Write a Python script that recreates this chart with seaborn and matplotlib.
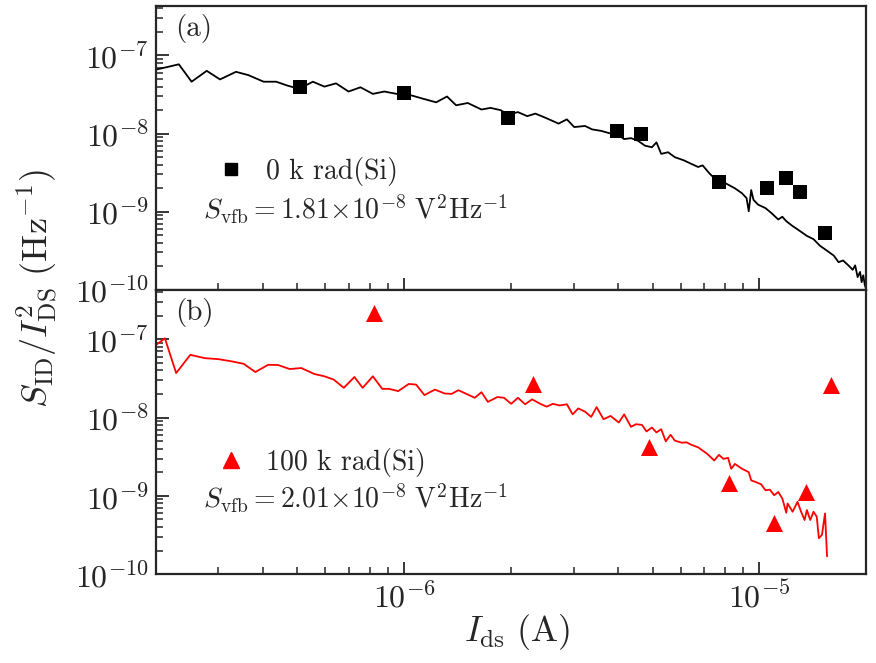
import numpy as np
import pandas as pd
import matplotlib
matplotlib.use('Agg')
import matplotlib.pyplot as plt
import matplotlib.ticker as mticker
from matplotlib.lines import Line2D
import seaborn as sns

# 0 krad(Si): measured noise curve (black line) and model points (squares)
ids_a = [2.00e-7, 2.16e-7, 2.32e-7, 2.52e-7, 2.78e-7, 3.03e-7, 3.36e-7, 3.64e-7, 4.02e-7, 4.36e-7,
         4.69e-7, 5.06e-7, 5.53e-7, 5.96e-7, 6.43e-7, 6.97e-7, 7.53e-7, 8.16e-7, 8.79e-7, 9.62e-7,
         1.05e-6, 1.13e-6, 1.23e-6, 1.32e-6, 1.40e-6, 1.51e-6, 1.65e-6, 1.75e-6, 1.87e-6, 1.96e-6,
         2.09e-6, 2.22e-6, 2.34e-6, 2.50e-6, 2.72e-6, 2.87e-6, 3.01e-6, 3.23e-6, 3.38e-6, 3.59e-6,
         3.81e-6, 3.94e-6, 4.04e-6, 4.16e-6, 4.35e-6, 4.55e-6, 4.76e-6, 4.98e-6, 5.13e-6, 5.29e-6,
         5.53e-6, 5.78e-6, 6.14e-6, 6.42e-6, 6.72e-6, 6.92e-6, 7.24e-6, 7.57e-6, 8.04e-6, 8.53e-6,
         8.93e-6, 9.20e-6, 9.33e-6, 9.48e-6, 9.62e-6, 9.91e-6, 1.04e-5, 1.08e-5, 1.13e-5, 1.16e-5,
         1.19e-5, 1.24e-5, 1.28e-5, 1.32e-5, 1.36e-5, 1.42e-5, 1.48e-5, 1.55e-5, 1.62e-5, 1.67e-5,
         1.72e-5, 1.78e-5, 1.83e-5, 1.86e-5, 1.89e-5, 1.92e-5, 1.94e-5, 1.96e-5, 1.98e-5, 2.00e-5]
s_a = [6.59e-8, 7.13e-8, 7.70e-8, 4.61e-8, 6.35e-8, 4.93e-8, 6.17e-8, 5.60e-8, 4.61e-8, 4.61e-8,
       4.11e-8, 3.73e-8, 4.61e-8, 3.99e-8, 4.39e-8, 3.45e-8, 3.91e-8, 3.22e-8, 3.45e-8, 3.19e-8,
       3.07e-8, 2.79e-8, 2.51e-8, 2.98e-8, 2.30e-8, 2.46e-8, 2.03e-8, 2.13e-8, 1.99e-8, 1.75e-8,
       1.88e-8, 1.67e-8, 1.80e-8, 1.59e-8, 1.34e-8, 1.52e-8, 1.21e-8, 1.25e-8, 1.13e-8, 1.08e-8,
       1.00e-8, 9.08e-9, 9.35e-9, 8.49e-9, 8.73e-9, 8.09e-9, 7.00e-9, 6.67e-9, 7.70e-9, 5.49e-9,
       5.76e-9, 4.98e-9, 4.52e-9, 4.10e-9, 3.73e-9, 3.91e-9, 3.07e-9, 2.53e-9, 2.30e-9, 1.99e-9,
       1.72e-9, 1.49e-9, 1.01e-9, 1.89e-9, 1.42e-9, 1.23e-9, 1.11e-9, 9.62e-10, 7.93e-10, 8.60e-10,
       7.55e-10, 6.53e-10, 5.93e-10, 5.38e-10, 4.89e-10, 4.44e-10, 3.66e-10, 3.16e-10, 2.73e-10, 2.25e-10,
       2.37e-10, 2.05e-10, 1.80e-10, 2.05e-10, 1.45e-10, 1.69e-10, 1.25e-10, 1.53e-10, 1.15e-10, 1.00e-10]
pts_a_x = [5.1e-7, 1.0e-6, 1.96e-6, 3.97e-6, 4.64e-6, 7.69e-6, 1.05e-5, 1.19e-5, 1.30e-5, 1.53e-5]
pts_a_y = [3.9e-8, 3.3e-8, 1.56e-8, 1.09e-8, 1.0e-8, 2.4e-9, 2.0e-9, 2.7e-9, 1.8e-9, 5.4e-10]

# 100 krad(Si)
ids_b = [2.00e-7, 2.12e-7, 2.28e-7, 2.50e-7, 2.74e-7, 3.00e-7, 3.28e-7, 3.53e-7, 3.81e-7, 4.14e-7,
         4.42e-7, 4.76e-7, 5.13e-7, 5.58e-7, 5.96e-7, 6.33e-7, 6.76e-7, 7.24e-7, 7.64e-7, 8.16e-7,
         8.67e-7, 9.06e-7, 9.62e-7, 1.03e-6, 1.08e-6, 1.14e-6, 1.22e-6, 1.30e-6, 1.36e-6, 1.42e-6,
         1.51e-6, 1.58e-6, 1.65e-6, 1.72e-6, 1.83e-6, 1.91e-6, 2.00e-6, 2.09e-6, 2.19e-6, 2.29e-6,
         2.43e-6, 2.52e-6, 2.62e-6, 2.74e-6, 2.87e-6, 2.98e-6, 3.09e-6, 3.23e-6, 3.36e-6, 3.48e-6,
         3.64e-6, 3.81e-6, 4.02e-6, 4.16e-6, 4.35e-6, 4.49e-6, 4.67e-6, 4.81e-6, 4.98e-6, 5.13e-6,
         5.29e-6, 5.45e-6, 5.62e-6, 5.78e-6, 6.05e-6, 6.24e-6, 6.42e-6, 6.72e-6, 7.13e-6, 7.46e-6,
         7.69e-6, 7.92e-6, 8.16e-6, 8.33e-6, 8.53e-6, 8.93e-6, 9.33e-6, 9.48e-6, 9.77e-6, 1.01e-5,
         1.04e-5, 1.07e-5, 1.10e-5, 1.13e-5, 1.16e-5, 1.19e-5, 1.20e-5, 1.24e-5, 1.28e-5, 1.31e-5,
         1.34e-5, 1.36e-5, 1.39e-5, 1.42e-5, 1.45e-5, 1.47e-5, 1.50e-5, 1.53e-5, 1.55e-5]
s_b = [8.47e-8, 1.03e-7, 3.71e-8, 6.34e-8, 5.75e-8, 5.58e-8, 5.21e-8, 4.87e-8, 3.82e-8, 4.73e-8,
       4.69e-8, 4.17e-8, 4.30e-8, 3.61e-8, 3.37e-8, 3.06e-8, 2.40e-8, 3.30e-8, 2.40e-8, 3.37e-8,
       2.33e-8, 2.33e-8, 2.18e-8, 2.69e-8, 2.64e-8, 1.94e-8, 2.28e-8, 2.03e-8, 2.01e-8, 2.24e-8,
       1.97e-8, 1.79e-8, 2.11e-8, 1.59e-8, 1.83e-8, 1.79e-8, 1.50e-8, 1.79e-8, 1.48e-8, 1.71e-8,
       1.48e-8, 1.38e-8, 1.50e-8, 1.43e-8, 1.48e-8, 1.10e-8, 1.31e-8, 1.19e-8, 1.02e-8, 1.36e-8,
       9.53e-9, 1.05e-8, 8.65e-9, 1.10e-8, 7.62e-9, 8.23e-9, 8.07e-9, 6.65e-9, 7.47e-9, 6.46e-9,
       7.11e-9, 4.97e-9, 6.04e-9, 5.07e-9, 4.78e-9, 4.83e-9, 4.51e-9, 4.17e-9, 3.44e-9, 2.83e-9,
       3.34e-9, 2.97e-9, 3.06e-9, 2.22e-9, 2.56e-9, 2.22e-9, 2.01e-9, 1.58e-9, 1.50e-9, 1.41e-9,
       1.18e-9, 1.20e-9, 1.02e-9, 1.12e-9, 9.25e-10, 6.09e-10, 8.00e-10, 6.27e-10, 8.40e-10, 6.27e-10,
       4.92e-10, 6.59e-10, 4.92e-10, 6.27e-10, 5.42e-10, 2.88e-10, 3.18e-10, 5.97e-10, 1.69e-10]
pts_b_x = [8.2e-7, 2.3e-6, 4.9e-6, 8.2e-6, 1.1e-5, 1.35e-5, 1.59e-5]
pts_b_y = [2.15e-7, 2.7e-8, 4.2e-9, 1.47e-9, 4.5e-10, 1.12e-9, 2.6e-8]

labels = ['0 k rad(Si)', '100 k rad(Si)']
svfb = [r'$S_{\rm vfb}=1.81{\times}10^{-8}\ \rm V^2Hz^{-1}$',
        r'$S_{\rm vfb}=2.01{\times}10^{-8}\ \rm V^2Hz^{-1}$']

sns.set_style('ticks')
plt.rcParams['font.family'] = ['cmr10', 'DejaVu Serif']
plt.rcParams['mathtext.fontset'] = 'cm'
plt.rcParams['axes.formatter.use_mathtext'] = True
plt.rcParams['axes.unicode_minus'] = False

fig = plt.figure(figsize=(8.76, 6.63), dpi=100)
ax1 = fig.add_axes([0.178, 0.563, 0.811, 0.428])
ax2 = fig.add_axes([0.178, 0.134, 0.811, 0.429])

panels = [
    (ax1, ids_a, s_a, pts_a_x, pts_a_y, 'black', 's', 100, '(a)', 0.418, 0.283),
    (ax2, ids_b, s_b, pts_b_x, pts_b_y, 'red', '^', 150, '(b)', 0.392, 0.268),
]

for i, (ax, lx, ly, px, py, col, mk, ms, tag, ly_leg, ly_txt) in enumerate(panels):
    df_line = pd.DataFrame({'ids': lx, 's': ly})
    df_pts = pd.DataFrame({'ids': px, 's': py})
    sns.lineplot(data=df_line, x='ids', y='s', ax=ax, color=col, lw=1.3,
                 estimator=None, sort=False)
    sns.scatterplot(data=df_pts, x='ids', y='s', ax=ax, color=col, marker=mk,
                    s=ms, linewidth=0, zorder=3)
    ax.set_xscale('log')
    ax.set_yscale('log')
    ax.set_xlim(2e-7, 2e-5)
    ax.set_ylim(1e-10, 4.3e-7)
    ax.yaxis.set_major_locator(mticker.FixedLocator([1e-10, 1e-9, 1e-8, 1e-7]))
    ax.yaxis.set_minor_locator(mticker.LogLocator(base=10, subs=np.arange(2, 10), numticks=20))
    ax.yaxis.set_minor_formatter(mticker.NullFormatter())
    ax.xaxis.set_minor_formatter(mticker.NullFormatter())
    ax.tick_params(which='major', direction='in', length=9, width=1.3, labelsize=23, pad=5)
    ax.tick_params(which='minor', direction='in', length=5, width=1.1)
    for sp in ax.spines.values():
        sp.set_linewidth(1.6)
    ax.set_xlabel('')
    ax.set_ylabel('')
    ax.text(0.027, 0.972, tag, transform=ax.transAxes, fontsize=21, va='top', ha='left')
    h = Line2D([], [], color=col, marker=mk, ls='none', markersize=9 if mk == 's' else 12)
    ax.legend([h], [labels[i]], loc='center left', bbox_to_anchor=(0.071, ly_leg),
              frameon=False, fontsize=20, handlelength=1.0, handletextpad=0.75,
              borderaxespad=0)
    ax.text(0.066, ly_txt, svfb[i], transform=ax.transAxes,
            fontsize=20, va='center', ha='left')

ax1.tick_params(labelbottom=False)

fig.text(0.59, 0.047, r'$I_{\rm ds}\ \rm (A)$', fontsize=26, ha='center', va='center')
fig.text(0.042, 0.565, r'$S_{\rm ID}/I^2_{\rm DS}\ \rm (Hz^{-1})$', fontsize=26,
         rotation=90, ha='center', va='center')

fig.savefig('out.png', dpi=100)
